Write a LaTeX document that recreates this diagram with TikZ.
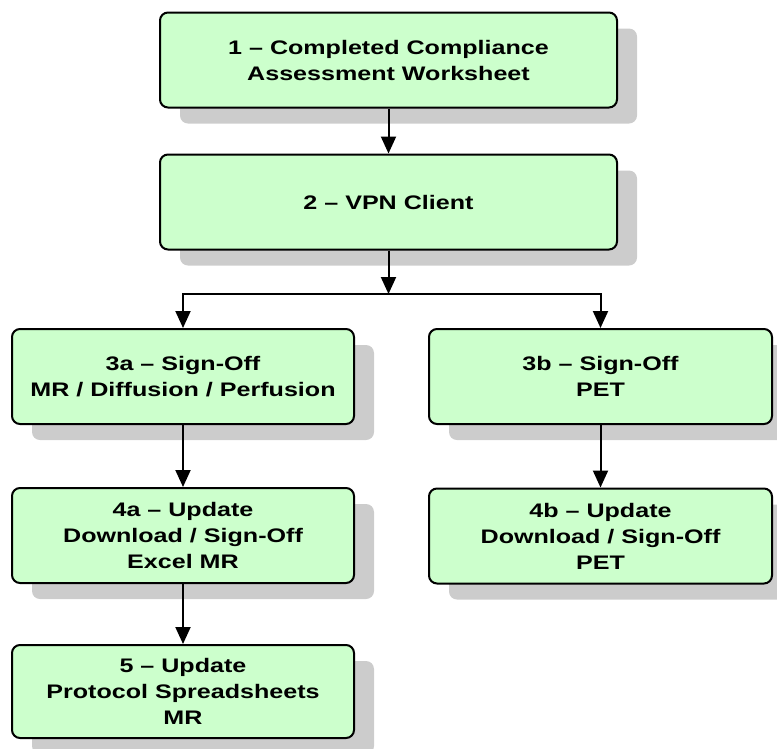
\documentclass[tikz,border=0pt]{standalone}
\usepackage{fontspec}
\newfontfamily\boxfont{Liberation Sans}[FakeStretch=1.28]
\usetikzlibrary{arrows.meta,shadows}
\definecolor{boxgreen}{RGB}{204,255,204}
\definecolor{shadowgray}{RGB}{204,204,204}
\tikzset{
  flowbox/.style={draw=black, line width=2pt, rounded corners=8pt, fill=boxgreen,
    inner sep=0pt, align=center,
    font=\boxfont\bfseries\fontsize{19.6}{26}\selectfont,
    general shadow={fill=shadowgray, shadow xshift=20pt, shadow yshift=-16pt}},
  widebox/.style={flowbox, minimum width=457pt, minimum height=95pt},
  colbox/.style={flowbox, minimum width=342pt, minimum height=95pt},
  arr/.style={draw=black, line width=2pt, -{Triangle[length=17pt,width=15pt]}}
}
\begin{document}
\begin{tikzpicture}[x=1pt,y=-1pt]
\useasboundingbox (0,0) rectangle (777,748);
\node[widebox] (b1) at (388.5,60) {1 – Completed Compliance\\Assessment Worksheet};
\node[widebox] (b2) at (388.5,202) {2 – VPN Client};
\node[colbox] (b3a) at (183,376.5) {3a – Sign-Off\\MR / Diffusion / Perfusion};
\node[colbox, minimum width=343pt] (b3b) at (600.5,376.5) {3b – Sign-Off\\PET};
\node[colbox] (b4a) at (183,535.5) {4a – Update\\Download / Sign-Off\\Excel MR};
\node[colbox, minimum width=343pt] (b4b) at (600.5,536) {4b – Update\\Download / Sign-Off\\PET};
\node[colbox, minimum height=93pt] (b5) at (183,691.5) {5 – Update\\Protocol Spreadsheets\\MR};
\coordinate (split) at (388.5,294);
\draw[arr] (b1) -- (b2);
\draw[arr] (b2) -- (split);
\draw[arr] (split) -| (b3a.north);
\draw[arr] (split) -| (b3b.north);
\draw[arr] (b3a) -- (b4a);
\draw[arr] (b3b) -- (b4b);
\draw[arr] (b4a) -- (b5);
\end{tikzpicture}
\end{document}
